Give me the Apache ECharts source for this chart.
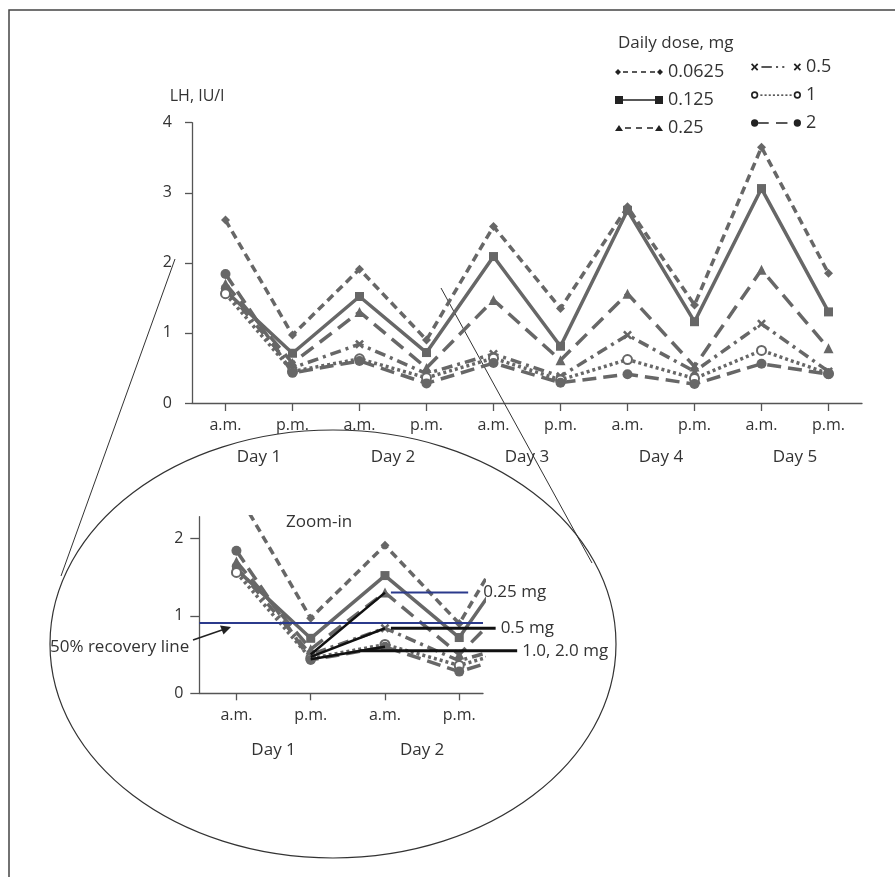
<!DOCTYPE html>
<html><head><meta charset="utf-8">
<script src="https://cdn.jsdelivr.net/npm/echarts@6/dist/echarts.min.js"></script>
<style>html,body{margin:0;padding:0;background:#fff}#c{width:895px;height:877px}</style>
</head><body><div id="c"></div>
<script>
// ---------- data ----------
const timeLabels = ['a.m.','p.m.','a.m.','p.m.','a.m.','p.m.','a.m.','p.m.','a.m.','p.m.'];
const dayLabels = ['Day 1','Day 2','Day 3','Day 4','Day 5'];
const doseNames = ['0.0625','0.125','0.25','0.5','1','2'];
const lh0625 = [2.61, 0.97, 1.91, 0.90, 2.52, 1.35, 2.80, 1.40, 3.65, 1.85];
const lh125  = [1.60, 0.71, 1.52, 0.72, 2.09, 0.81, 2.75, 1.16, 3.06, 1.30];
const lh25   = [1.70, 0.57, 1.30, 0.50, 1.47, 0.61, 1.56, 0.52, 1.90, 0.78];
const lh05   = [1.63, 0.50, 0.84, 0.42, 0.70, 0.38, 0.97, 0.45, 1.13, 0.45];
const lh1    = [1.56, 0.45, 0.63, 0.36, 0.64, 0.33, 0.62, 0.35, 0.75, 0.42];
const lh2    = [1.84, 0.43, 0.60, 0.28, 0.57, 0.29, 0.41, 0.27, 0.56, 0.41];
const mainYTicks = [0, 1, 2, 3, 4];
// zoom-in panel
const zoomTimeLabels = ['a.m.','p.m.','a.m.','p.m.'];
const zoomDayLabels = ['Day 1','Day 2'];
const zoomYTicks = [0, 1, 2];
const zoomPoints = 5;              // Day1 am .. Day3 am (cropped by the panel)
const recoveryLevel = 0.91;        // 50% recovery line
const hlFrom = [0.50, 0.47, 0.44]; // highlight segments Day1 pm -> Day2 am
const hlTo   = [1.30, 0.84, 0.60];
const annotText = ['0.25 mg', '0.5 mg', '1.0, 2.0 mg'];
const annotLevel = [1.30, 0.84, 0.55];
const annotX0 = [2.08, 2.08, 1.66];
const annotX1 = [3.12, 3.49, 3.78];

const doseValues = [lh0625, lh125, lh25, lh05, lh1, lh2];

// ---------- styles ----------
const FONT = '"Open Sans","Noto Sans",sans-serif';
const GREY = '#676767';
const TXT = '#333';
const BLUE = '#2b3a8c';
const XSYM = 'path://M2,0L5,3L8,0L10,2L7,5L10,8L8,10L5,7L2,10L0,8L3,5L0,2Z';
const looks = [
  {dash:[8,5], symbol:'diamond', size:8},
  {dash:'solid', symbol:'rect', size:8},
  {dash:[15,8], symbol:'triangle', size:9},
  {dash:[11,5,3,5], symbol:XSYM, size:8},
  {dash:[3,3], symbol:'emptyCircle', size:8},
  {dash:[14,7], symbol:'circle', size:9}
];
const legendIcons = [
  'path://M0,5L3,2L6,5L3,8Z M8,4.3H13V5.7H8Z M17,4.3H22V5.7H17Z M26,4.3H31V5.7H26Z M35,4.3H40V5.7H35Z M42,5L45,2L48,5L45,8Z',
  'path://M0,1H8V9H0Z M8,4.2H40V5.8H8Z M40,1H48V9H40Z',
  'path://M0,8L4,2L8,8Z M10,4.3H16V5.7H10Z M21,4.3H27V5.7H21Z M32,4.3H38V5.7H32Z M40,8L44,2L48,8Z',
  'path://M0,2.5L1.2,1.3L3.5,3.6L5.8,1.3L7,2.5L4.7,4.8L7,7.1L5.8,8.3L3.5,6L1.2,8.3L0,7.1L2.3,4.8Z M10,4.1H20V5.5H10Z M24,4.1H26V5.5H24Z M30,4.1H32V5.5H30Z M41,2.5L42.2,1.3L44.5,3.6L46.8,1.3L48,2.5L45.7,4.8L48,7.1L46.8,8.3L44.5,6L42.2,8.3L41,7.1L43.3,4.8Z',
  'path://M0,5A3.5,3.5,0,1,1,7,5A3.5,3.5,0,1,1,0,5Z M1.6,5A1.9,1.9,0,1,0,5.4,5A1.9,1.9,0,1,0,1.6,5Z M9,4.4H11V5.6H9Z M13,4.4H15V5.6H13Z M17,4.4H19V5.6H17Z M21,4.4H23V5.6H21Z M25,4.4H27V5.6H25Z M29,4.4H31V5.6H29Z M33,4.4H35V5.6H33Z M37,4.4H39V5.6H37Z M41,5A3.5,3.5,0,1,1,48,5A3.5,3.5,0,1,1,41,5Z M42.6,5A1.9,1.9,0,1,0,46.4,5A1.9,1.9,0,1,0,42.6,5Z',
  'path://M0,5A3.5,3.5,0,1,1,7,5A3.5,3.5,0,1,1,0,5Z M7,4.2H17V5.8H7Z M24,4.2H35V5.8H24Z M41,5A3.5,3.5,0,1,1,48,5A3.5,3.5,0,1,1,41,5Z'
];

// zoom panel geometry (px per category = 74.27)
const ZX0 = 199.3, ZTOP = 516.7, ZH = 176.6, ZUNIT = 74.27;

const series = [];
doseValues.forEach((vals, i) => {
  const lk = looks[i];
  series.push({
    name: doseNames[i], type: 'line', xAxisIndex: 0, yAxisIndex: 0,
    data: vals, symbol: lk.symbol, symbolSize: lk.size + 1, showAllSymbol: true,
    lineStyle: {color: GREY, width: 3.5, type: lk.dash},
    itemStyle: {color: GREY, borderColor: GREY, borderWidth: lk.symbol === 'emptyCircle' ? 2 : 0},
    z: 3
  });
});
doseValues.forEach((vals, i) => {
  const lk = looks[i];
  series.push({
    name: doseNames[i], type: 'line', xAxisIndex: 2, yAxisIndex: 1,
    data: vals.slice(0, zoomPoints).map((v, k) => [k, v]),
    symbol: lk.symbol, symbolSize: lk.size + 1, showAllSymbol: true, clip: true,
    lineStyle: {color: GREY, width: 3.5, type: lk.dash},
    itemStyle: {color: GREY, borderColor: GREY, borderWidth: lk.symbol === 'emptyCircle' ? 2 : 0},
    z: 3
  });
});
hlFrom.forEach((v, i) => {
  const s = {
    type: 'line', xAxisIndex: 2, yAxisIndex: 1, symbol: 'none',
    data: [[1, v], [2, hlTo[i]]],
    lineStyle: {color: '#111', width: 2.5}, z: 5, silent: true
  };
  if (i === 0) {
    s.markLine = {
      silent: true, symbol: 'none', label: {show: false},
      lineStyle: {color: BLUE, width: 2, type: 'solid'},
      data: [{yAxis: recoveryLevel}], animation: false
    };
  }
  series.push(s);
});
annotText.forEach((t, i) => {
  series.push({
    type: 'line', xAxisIndex: 4, yAxisIndex: 2, symbol: 'none', clip: false,
    data: [[annotX0[i], annotLevel[i]], [annotX1[i], annotLevel[i]]],
    lineStyle: {color: i === 0 ? BLUE : '#111', width: i === 0 ? 2 : 3}, z: 6, silent: true,
    endLabel: {show: true, formatter: t, distance: i === 0 ? 15 : 5,
      color: TXT, fontSize: 17, fontFamily: FONT}
  });
});

const axisLineStyle = {color: '#555', width: 1.3};
const option = {
  animation: false,
  backgroundColor: '#fff',
  title: {text: 'Daily dose, mg', left: 618, top: 35, padding: 0,
    textStyle: {fontSize: 17, fontWeight: 'normal', color: TXT, fontFamily: FONT}},
  legend: [
    {left: 615, top: 63, orient: 'vertical', padding: 0, itemGap: 10,
      itemWidth: 48, itemHeight: 10, selectedMode: false, symbolKeepAspect: true,
      itemStyle: {color: '#222', borderWidth: 0},
      textStyle: {fontSize: 18, color: TXT, fontFamily: FONT, lineHeight: 18},
      data: [0,1,2].map(i => ({name: doseNames[i], icon: legendIcons[i]}))},
    {left: 751, top: 58, orient: 'vertical', padding: 0, itemGap: 10,
      itemWidth: 50, itemHeight: 10, selectedMode: false, symbolKeepAspect: true,
      itemStyle: {color: '#222', borderWidth: 0},
      textStyle: {fontSize: 18, color: TXT, fontFamily: FONT, lineHeight: 18},
      data: [3,4,5].map(i => ({name: doseNames[i], icon: legendIcons[i]}))}
  ],
  grid: [
    {left: 192, top: 122.7, width: 670, height: 280.3, outerBoundsMode: 'none'},
    {left: ZX0, top: ZTOP, width: ZUNIT * 3.82, height: ZH, outerBoundsMode: 'none'},
    {left: ZX0, top: ZTOP, width: ZUNIT * 5, height: ZH, outerBoundsMode: 'none'}
  ],
  xAxis: [
    {type: 'category', gridIndex: 0, data: timeLabels, boundaryGap: true,
      axisLine: {show: true, lineStyle: axisLineStyle},
      axisTick: {show: true, alignWithLabel: true, length: 8, lineStyle: axisLineStyle},
      axisLabel: {margin: 14, fontSize: 16, color: TXT, fontFamily: FONT, interval: 0},
      splitLine: {show: false}},
    {type: 'category', gridIndex: 0, data: dayLabels, boundaryGap: true, position: 'bottom',
      axisLine: {show: false}, axisTick: {show: false},
      axisLabel: {margin: 46, fontSize: 17, color: TXT, fontFamily: FONT, interval: 0},
      splitLine: {show: false}},
    {type: 'value', gridIndex: 1, min: -0.5, max: 3.32,
      axisLine: {show: true, onZero: false, lineStyle: axisLineStyle},
      axisTick: {show: true, customValues: [0,1,2,3], length: 7, lineStyle: axisLineStyle},
      axisLabel: {customValues: [0,1,2,3], formatter: v => zoomTimeLabels[Math.round(v)],
        margin: 14, fontSize: 16, color: TXT, fontFamily: FONT},
      splitLine: {show: false}},
    {type: 'value', gridIndex: 1, min: -0.5, max: 3.32, position: 'bottom',
      axisLine: {show: false, onZero: false}, axisTick: {show: false},
      axisLabel: {customValues: [0.5, 2.5], formatter: v => zoomDayLabels[Math.round((v - 0.5) / 2)],
        margin: 48, fontSize: 17, color: TXT, fontFamily: FONT},
      splitLine: {show: false}},
    {type: 'value', gridIndex: 2, min: -0.5, max: 4.5, show: false,
      axisLine: {show: false, onZero: false}, splitLine: {show: false}}
  ],
  yAxis: [
    {type: 'value', gridIndex: 0, min: mainYTicks[0], max: mainYTicks[mainYTicks.length - 1], interval: 1,
      name: 'LH, IU/l', nameLocation: 'end', nameGap: 18,
      nameTextStyle: {fontSize: 16, color: TXT, fontFamily: FONT, padding: [0, 0, 0, 10]},
      axisLine: {show: true, onZero: false, lineStyle: axisLineStyle},
      axisTick: {show: true, length: 7, lineStyle: axisLineStyle},
      axisLabel: {margin: 20, fontSize: 16, color: TXT, fontFamily: FONT},
      splitLine: {show: false}},
    {type: 'value', gridIndex: 1, min: 0, max: 2.28,
      axisLine: {show: true, onZero: false, lineStyle: axisLineStyle},
      axisTick: {show: true, customValues: zoomYTicks, length: 9, lineStyle: axisLineStyle},
      axisLabel: {customValues: zoomYTicks, margin: 16, fontSize: 16, color: TXT, fontFamily: FONT},
      splitLine: {show: false}},
    {type: 'value', gridIndex: 2, min: 0, max: 2.28, show: false,
      axisLine: {show: false, onZero: false}, splitLine: {show: false}}
  ],
  graphic: [
    {type: 'rect', shape: {x: 9, y: 10, width: 960, height: 960}, style: {fill: 'none', stroke: '#444', lineWidth: 1.5}, z: 0, silent: true},
    {type: 'ellipse', shape: {cx: 333, cy: 644, rx: 283, ry: 214}, style: {fill: 'none', stroke: '#333', lineWidth: 1.2}, z: 1, silent: true},
    {type: 'line', shape: {x1: 175, y1: 259, x2: 61, y2: 576}, style: {stroke: '#333', lineWidth: 1}, z: 1, silent: true},
    {type: 'line', shape: {x1: 441, y1: 288, x2: 592, y2: 563}, style: {stroke: '#333', lineWidth: 1}, z: 1, silent: true},
    {type: 'text', left: 286, top: 514, style: {text: 'Zoom-in', fontSize: 17, fill: TXT, fontFamily: FONT}, z: 10, silent: true},
    {type: 'text', left: 50, top: 639, style: {text: '50% recovery line', fontSize: 17, fill: TXT, fontFamily: FONT}, z: 10, silent: true},
    {type: 'line', shape: {x1: 193, y1: 640, x2: 222, y2: 630}, style: {stroke: '#222', lineWidth: 1.5}, z: 10, silent: true},
    {type: 'polygon', shape: {points: [[231, 627], [220, 625.5], [223.5, 634.5]]}, style: {fill: '#222'}, z: 10, silent: true}
  ],
  series: series
};
const chart = echarts.init(document.getElementById('c'), null, {renderer: 'canvas'});
chart.setOption(option);
</script></body></html>
